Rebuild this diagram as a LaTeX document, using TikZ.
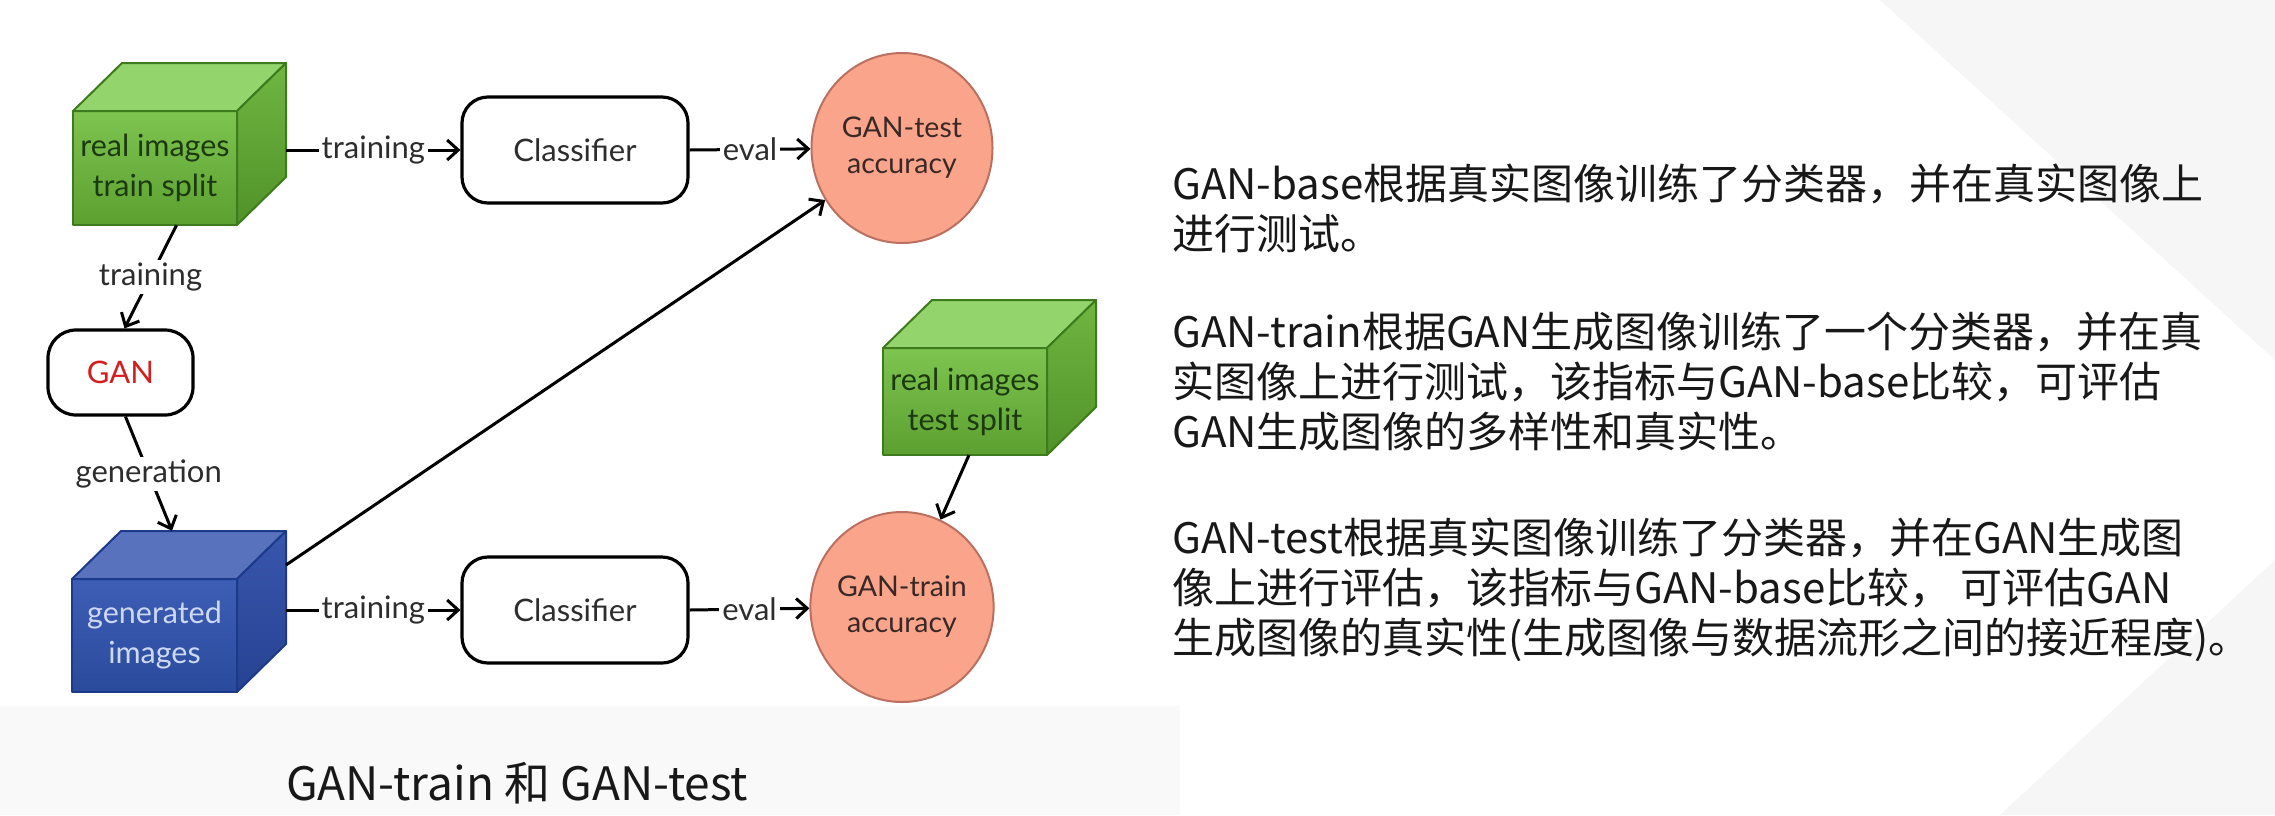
\documentclass[tikz,border=0pt]{standalone}
\usepackage{fontspec}
\setmainfont{Lato}
\newfontfamily\cjk{Noto Sans CJK SC}
\usetikzlibrary{arrows.meta,shapes.geometric}

\definecolor{greentop}{RGB}{148,212,108}
\definecolor{greenfronttop}{RGB}{126,196,80}
\definecolor{greenfrontbot}{RGB}{92,160,48}
\definecolor{greensidetop}{RGB}{112,182,66}
\definecolor{greensidebot}{RGB}{80,146,40}
\definecolor{greenline}{RGB}{62,122,30}
\definecolor{greentext}{RGB}{28,58,16}
\definecolor{bluetop}{RGB}{88,114,190}
\definecolor{bluefronttop}{RGB}{62,94,182}
\definecolor{bluefrontbot}{RGB}{42,74,156}
\definecolor{bluesidetop}{RGB}{56,86,172}
\definecolor{bluesidebot}{RGB}{38,66,146}
\definecolor{blueline}{RGB}{28,58,138}
\definecolor{bluetext}{RGB}{205,216,242}
\definecolor{accfill}{RGB}{250,164,140}
\definecolor{accline}{RGB}{186,112,96}
\definecolor{acctext}{RGB}{58,40,36}
\definecolor{labelc}{RGB}{45,45,45}
\definecolor{ganred}{RGB}{212,30,30}
\definecolor{bodytext}{RGB}{24,24,24}
\definecolor{bgA}{RGB}{249,249,249}
\definecolor{bgB}{RGB}{246,246,246}

\tikzset{
  lbl/.style={fill=white, inner sep=3pt, font=\fontsize{31}{34}\selectfont, text=labelc},
  conn/.style={line width=3pt, draw=black, -{Straight Barb[length=11pt,width=20pt,line width=3pt]}},
  roundbox/.style={draw=black, line width=3.2pt, fill=white, rounded corners=26pt,
     font=\fontsize{31}{34}\selectfont, text=labelc},
  accnode/.style={ellipse, draw=accline, line width=2pt, fill=accfill,
     minimum width=181pt, minimum height=190pt, inner sep=0pt, align=center,
     font=\fontsize{28.5}{36}\selectfont, text=acctext},
  cubetext/.style={align=center, inner sep=0pt, font=\fontsize{30.5}{40}\selectfont},
  para/.style={align=left, inner sep=0pt, anchor=base west, text=bodytext,
     font=\cjk\fontsize{42}{50}\selectfont},
  bbox/.style={inner sep=0pt, draw=none}
}

% #1 name, #2 x, #3 y (front face top-left), #4 w, #5 h, #6 colour prefix, #7 text, #8 text colour
\newcommand\mycube[8]{%
  \path[draw=#6line, line width=2pt, line join=round, top color=#6fronttop, bottom color=#6frontbot]
    (#2,#3) rectangle ++(#4,#5);
  \path[draw=#6line, line width=2pt, line join=round, fill=#6top]
    (#2,#3) -- ++(49,-48) -- ++(#4,0) -- ++(-49,48) -- cycle;
  \path[draw=#6line, line width=2pt, line join=round, top color=#6sidetop, bottom color=#6sidebot]
    ({#2+#4},#3) -- ++(49,-48) -- ++(0,#5) -- ++(-49,48) -- cycle;
  \node[bbox, minimum width={#4+49}, minimum height={#5+48}] (#1) at ({#2+(#4+49)/2},{#3+(#5-48)/2}) {};
  \node[cubetext, text=#8] (#1t) at ({#2+#4/2},{#3+#5/2}) {#7};
  \coordinate (#1s) at ({#2+#4/2},{#3+#5});
}

\begin{document}
\begin{tikzpicture}[x=1pt,y=-1pt]
\useasboundingbox (0,0) rectangle (2275,815);
\fill[white] (0,0) rectangle (2275,815);
% faint slide background shapes
\fill[bgA] (0,706) rectangle (1180,815);
\fill[bgB] (1880,0) -- (2275,0) -- (2275,360) -- cycle;
\fill[bgB] (2000,815) -- (2275,560) -- (2275,815) -- cycle;

% cubes
\mycube{rtrain}{73}{111}{164}{114}{green}{real images\\train split}{greentext}
\mycube{gen}{72}{579}{165}{113}{blue}{generated\\images}{bluetext}
\mycube{rtest}{883}{348}{164}{107}{green}{real images\\test split}{greentext}
\coordinate (genD) at (286,565);

% boxes
\node[roundbox, minimum width=226pt, minimum height=106pt] (cls1) at (575,150) {Classifier};
\node[roundbox, minimum width=226pt, minimum height=106pt] (cls2) at (575,610) {Classifier};
\node[roundbox, minimum width=145pt, minimum height=85pt, rounded corners=28pt, text=ganred] (gan) at (120.5,372.5) {GAN};

% accuracies
\node[accnode] (gantest) at (902,148) {GAN-test\\accuracy};
\node[accnode] (gantrain) at (902,607) {GAN-train\\accuracy};

% connectors
\draw[conn] (cls1.west -| rtrain.east) -- node[lbl] (l1) {training} (cls1.west);
\draw[conn] (cls1.east) -- node[lbl] (l2) {eval} (gantest);
\draw[conn] ([xshift=-3pt]rtrain.south) -- node[lbl] (l3) {training} ([xshift=4pt]gan.north);
\draw[conn] ([xshift=5pt]gan.south) -- node[lbl] (l4) {generation} ([xshift=-7pt]gen.north);
\draw[conn] (cls2.west -| gen.east) -- node[lbl] (l5) {training} (cls2.west);
\draw[conn] (cls2.east) -- node[lbl] (l6) {eval} (gantrain);
\draw[conn] (genD) -- (gantest);
\draw[conn] ([xshift=4pt]rtests) -- (gantrain);

% right-hand text (base = last line)
\node[para] (p1) at (1172,249) {GAN-base根据真实图像训练了分类器，并在真实图像上\\进行测试。};
\node[para] (p2) at (1172,447) {GAN-train根据GAN生成图像训练了一个分类器，并在真\\实图像上进行测试，该指标与GAN-base比较，可评估\\GAN生成图像的多样性和真实性。};
\node[para] (p3) at (1172,653) {GAN-test根据真实图像训练了分类器，并在GAN生成图\\像上进行评估，该指标与GAN-base比较， 可评估GAN\\生成图像的真实性(生成图像与数据流形之间的接近程度)。};

% caption
\node[anchor=base west, inner sep=0pt, text=bodytext, font=\cjk\fontsize{46}{50}\selectfont] (cap) at (286,800) {GAN-train 和 GAN-test};
\end{tikzpicture}
\end{document}
